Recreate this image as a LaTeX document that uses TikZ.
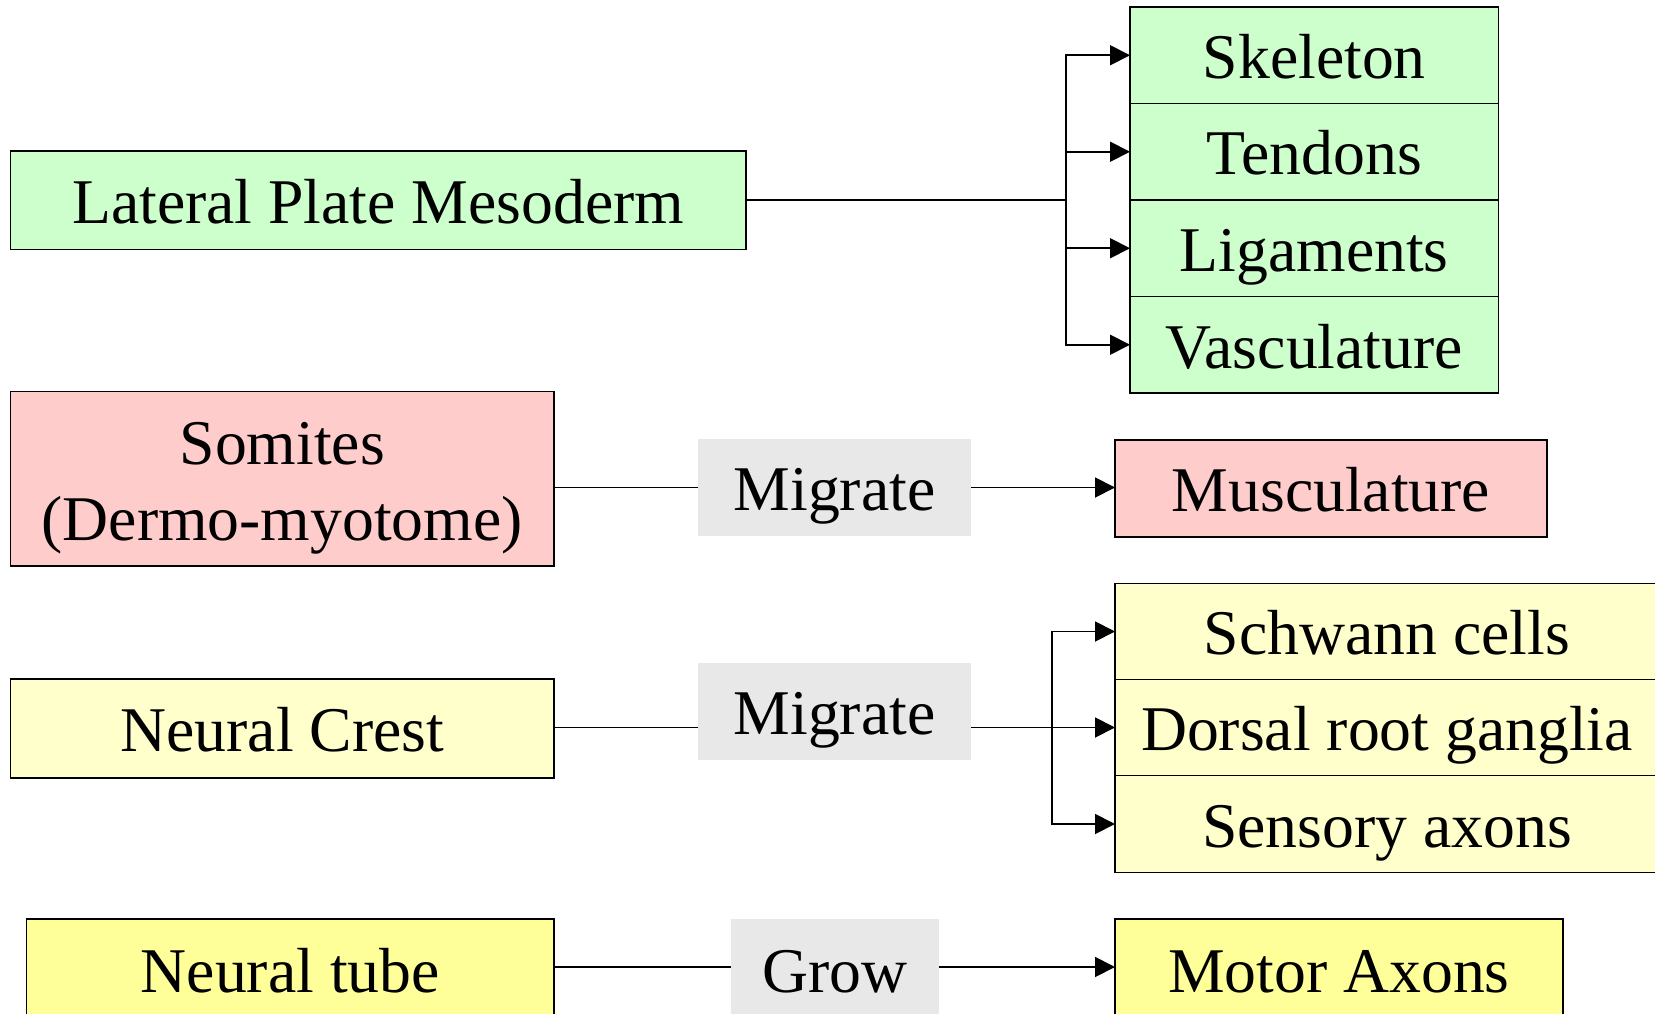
\documentclass[tikz,border=0pt]{standalone}
\usepackage{fontspec}
\setmainfont{Liberation Serif}
\usetikzlibrary{arrows.meta}
\definecolor{gfill}{HTML}{CCFFCC}
\definecolor{pfill}{HTML}{FFCCCC}
\definecolor{lyfill}{HTML}{FFFFCC}
\definecolor{yfill}{HTML}{FFFF99}
\definecolor{grayfill}{HTML}{E8E8E8}
\tikzset{
  box/.style={draw=black, line width=1.9pt, inner sep=0pt, outer sep=0pt, align=center,
    font=\fontsize{63.7}{76}\selectfont, text height=59pt, text depth=12.5pt},
  lbl/.style={fill=grayfill, inner sep=0pt, outer sep=0pt,
    font=\fontsize{63.7}{76}\selectfont, text height=59pt, text depth=12.5pt},
  conn/.style={line width=1.9pt},
  arr/.style={line width=1.9pt, -{Triangle[length=20pt,width=20pt]}}
}
\begin{document}
\begin{tikzpicture}[x=1pt,y=-1pt]
\useasboundingbox (0,0) rectangle (1655,1014);
% row 1
\node[box, fill=gfill, minimum width=735.5pt, minimum height=98.5pt] (lpm) at (378.25,200.25) {Lateral Plate Mesoderm};
\node[box, fill=gfill, minimum width=368.5pt, minimum height=96.5pt] (sk) at (1314.25,55.25) {Skeleton};
\node[box, fill=gfill, minimum width=368.5pt, minimum height=96.5pt] (te) at (1314.25,151.75) {Tendons};
\node[box, fill=gfill, minimum width=368.5pt, minimum height=96.5pt] (li) at (1314.25,248.25) {Ligaments};
\node[box, fill=gfill, minimum width=368.5pt, minimum height=96.5pt] (va) at (1314.25,344.75) {Vasculature};
\coordinate (j1) at (1066,200.25);
\draw[conn] (lpm.east) -- (j1);
\draw[arr] (j1) |- (sk.west);
\draw[arr] (j1) |- (te.west);
\draw[arr] (j1) |- (li.west);
\draw[arr] (j1) |- (va.west);
% row 2
\node[box, fill=pfill, minimum width=543.5pt, minimum height=174.5pt, text height=136.5pt, text depth=14pt] (som) at (282.25,478.75) {Somites\\(Dermo-myotome)};
\node[lbl, minimum width=273pt, minimum height=96.5pt] (mig1) at (834.5,487.5) {Migrate};
\node[box, fill=pfill, minimum width=432pt, minimum height=97pt] (mus) at (1331,488.5) {Musculature};
\coordinate (r2) at (554,487.5);
\draw[conn] (som.east |- r2) -- (mig1.west |- r2);
\draw[arr] (mig1.east |- r2) -- (mus.west |- r2);
% row 3
\node[box, fill=lyfill, minimum width=543.5pt, minimum height=98.5pt] (nc) at (282.25,728.5) {Neural Crest};
\node[lbl, minimum width=273pt, minimum height=97pt] (mig2) at (834.5,711.5) {Migrate};
\node[box, fill=lyfill, minimum width=550pt, minimum height=96pt] (sc) at (1390,631.5) {\hspace*{-6pt}Schwann cells};
\node[box, fill=lyfill, minimum width=550pt, minimum height=96pt] (dr) at (1390,727.5) {\hspace*{-6pt}Dorsal root ganglia};
\node[box, fill=lyfill, minimum width=550pt, minimum height=97pt] (se) at (1390,824) {\hspace*{-6pt}Sensory axons};
\coordinate (j2) at (1052,727.5);
\draw[conn] (nc.east |- j2) -- (mig2.west |- j2);
\draw[conn] (mig2.east |- j2) -- (j2);
\draw[arr] (j2) |- (sc.west);
\draw[arr] (j2) |- (dr.west);
\draw[arr] (j2) |- (se.west);
% row 4
\node[box, fill=yfill, minimum width=527.5pt, minimum height=100pt] (nt) at (290.25,969) {Neural tube};
\node[lbl, minimum width=208pt, minimum height=100pt] (grow) at (835,969) {Grow};
\node[box, fill=yfill, minimum width=448pt, minimum height=100pt] (ma) at (1339,969) {Motor Axons};
\coordinate (r4) at (554,967);
\draw[conn] (nt.east |- r4) -- (grow.west |- r4);
\draw[arr] (grow.east |- r4) -- (ma.west |- r4);
\end{tikzpicture}
\end{document}
